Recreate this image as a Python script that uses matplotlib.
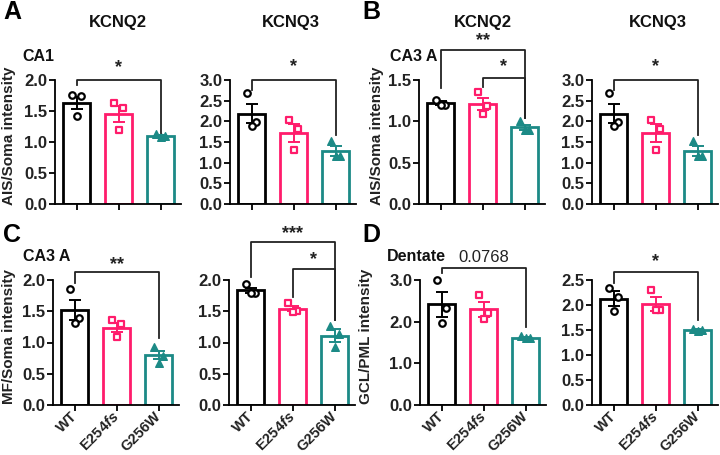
import matplotlib
matplotlib.use("Agg")
import matplotlib.pyplot as plt
import numpy as np

plt.rcParams['font.family'] = ['Liberation Sans', 'DejaVu Sans']
plt.rcParams['mathtext.fontset'] = 'custom'
plt.rcParams['mathtext.it'] = 'Liberation Sans:italic:bold'
plt.rcParams['mathtext.rm'] = 'Liberation Sans:bold'

groups = ["WT", "E254fs", "G256W"]
group_labels = ["WT", r"E254$\mathit{fs}$", "G256W"]
colors = ["#000000", "#FF1C6B", "#1C8A86"]
markers = ["o", "s", "^"]

# ---- data (means, SEM, individual animals) ----
a1_mean = [1.63, 1.45, 1.10]
a1_sem = [0.10, 0.13, 0.02]
a1_pts = [[1.76, 1.74, 1.42], [1.63, 1.55, 1.19], [1.13, 1.10, 1.08]]

kcnq3_mean = [2.18, 1.71, 1.28]
kcnq3_sem = [0.23, 0.22, 0.13]
kcnq3_pts = [[2.68, 1.98, 1.88], [2.03, 1.82, 1.31], [1.52, 1.17, 1.15]]

b1_mean = [1.22, 1.21, 0.93]
b1_sem = [0.02, 0.07, 0.03]
b1_pts = [[1.26, 1.20, 1.20], [1.36, 1.18, 1.09], [1.00, 0.90, 0.90]]

c1_mean = [1.52, 1.24, 0.80]
c1_sem = [0.16, 0.07, 0.07]
c1_pts = [[1.85, 1.40, 1.32], [1.36, 1.30, 1.09], [0.93, 0.78, 0.68]]

c2_mean = [1.84, 1.54, 1.11]
c2_sem = [0.04, 0.04, 0.10]
c2_pts = [[1.93, 1.80, 1.80], [1.64, 1.50, 1.49], [1.26, 1.13, 0.93]]

d1_mean = [2.42, 2.30, 1.62]
d1_sem = [0.30, 0.18, 0.02]
d1_pts = [[3.00, 2.32, 1.96], [2.64, 2.20, 2.07], [1.65, 1.62, 1.60]]

d2_mean = [2.13, 2.02, 1.50]
d2_sem = [0.15, 0.14, 0.02]
d2_pts = [[2.35, 2.17, 1.88], [2.30, 1.90, 1.90], [1.53, 1.50, 1.48]]

panel_data = [
    # mean, sem, pts, ymax, ystep, ylabel, region, brackets
    (a1_mean, a1_sem, a1_pts, 2.0, 0.5, "AIS/Soma intensity", "CA1",
     [(0, 2, 2.0, 1.92, 1.15, "*", 2.20)]),
    (kcnq3_mean, kcnq3_sem, kcnq3_pts, 3.0, 0.5, None, None,
     [(0, 2, 3.0, 2.76, 1.67, "*", 3.32)]),
    (b1_mean, b1_sem, b1_pts, 1.5, 0.5, "AIS/Soma intensity", "CA3 A",
     [(0, 2, 1.86, 1.40, 1.04, "**", 1.98), (1, 2, 1.52, 1.41, 1.04, "*", 1.66)]),
    (kcnq3_mean, kcnq3_sem, kcnq3_pts, 3.0, 0.5, None, None,
     [(0, 2, 3.0, 2.76, 1.67, "*", 3.32)]),
    (c1_mean, c1_sem, c1_pts, 2.0, 0.5, "MF/Soma intensity", "CA3 A",
     [(0, 2, 2.13, 1.95, 1.07, "**", 2.24)]),
    (c2_mean, c2_sem, c2_pts, 2.0, 0.5, None, None,
     [(0, 2, 2.61, 2.05, 1.36, "***", 2.75), (1, 2, 2.18, 1.73, 1.36, "*", 2.32)]),
    (d1_mean, d1_sem, d1_pts, 3.0, 1.0, "GCL/PML intensity", "Dentate",
     [(0, 2, 3.28, 3.16, 1.87, "0.0768", 3.54)]),
    (d2_mean, d2_sem, d2_pts, 2.5, 0.5, None, None,
     [(0, 2, 2.66, 2.44, 1.70, "*", 2.86)]),
]

# axes boxes in pixels: left, top, bottom
W, H = 720, 455
lefts = [55, 230, 419, 592, 53, 229, 420, 592]
tops = [80, 80, 80, 80, 280, 280, 280, 280]
bottoms = [204, 204, 204, 204, 405, 405, 405, 405]
AXW = 126
ylabel_x = [-0.31, None, -0.28, None, -0.29, None, -0.37, None]
region_x = [-0.26, None, -0.23, None, -0.24, None, -0.26, None]
offsets = [-0.11, 0.11, 0.0]

fig = plt.figure(figsize=(7.2, 4.55), dpi=100)

for k, (mean, sem, pts, ymax, ystep, ylab, region, brackets) in enumerate(panel_data):
    l, t, b = lefts[k], tops[k], bottoms[k]
    ax = fig.add_axes([l / W, 1 - b / H, AXW / W, (b - t) / H])
    x = np.arange(3)
    for i in range(3):
        ax.bar(x[i], mean[i], width=0.64, facecolor="white", edgecolor=colors[i],
               linewidth=2.0, zorder=2)
        ax.errorbar(x[i], mean[i], yerr=sem[i], color=colors[i], capsize=4.5,
                    elinewidth=1.4, capthick=1.4, zorder=3)
        px = x[i] + np.array(offsets)
        if markers[i] == "^":
            ax.scatter(px, pts[i], marker="^", s=30, facecolor=colors[i],
                       edgecolor=colors[i], linewidth=1.0, zorder=4, clip_on=False)
        else:
            ax.scatter(px, pts[i], marker=markers[i], s=22, facecolor="white",
                       edgecolor=colors[i], linewidth=1.6, zorder=4, clip_on=False)
    ax.set_xlim(-0.52, 2.48)
    ax.set_ylim(0, ymax)
    ax.set_yticks(np.arange(0, ymax + 1e-9, ystep))
    ax.yaxis.set_major_formatter(matplotlib.ticker.FormatStrFormatter("%.1f"))
    ax.set_xticks(x)
    for s in ["top", "right"]:
        ax.spines[s].set_visible(False)
    for s in ["left", "bottom"]:
        ax.spines[s].set_linewidth(1.3)
    ax.tick_params(axis="both", width=1.3, length=4, labelsize=12, colors="#000000",
                   labelcolor="#222222")
    ax.tick_params(axis="y", pad=1.5)
    for lab in ax.get_yticklabels():
        lab.set_fontweight("bold")
    if k >= 4:
        ax.tick_params(axis="x", pad=2.5)
        ax.set_xticklabels(group_labels, rotation=45, ha="right", va="center",
                           rotation_mode="anchor", fontsize=10.5, fontweight="bold")
    else:
        ax.set_xticklabels([])
    if ylab:
        ax.set_ylabel(ylab, fontsize=11, fontweight="bold", color="#222222")
        ax.yaxis.set_label_coords(ylabel_x[k], 0.55)
    if region:
        ax.text(region_x[k], 1.19, region, transform=ax.transAxes, fontsize=11.5,
                fontweight="bold", ha="left", va="center", color="#111111")
    for (i0, i1, ytop, yl, yr, lab, ylab_y) in brackets:
        ax.plot([i0, i0, i1, i1], [yl, ytop, ytop, yr], color="#222222",
                linewidth=1.3, clip_on=False, zorder=5)
        if lab.startswith("0"):
            ax.text((i0 + i1) / 2, ylab_y, lab, ha="center", va="center",
                    fontsize=12, color="#222222")
        else:
            ax.text((i0 + i1) / 2, ylab_y, lab, ha="center", va="center",
                    fontsize=13, fontweight="bold", color="#222222")

# column titles
for xc, title in [(118, "KCNQ2"), (291, "KCNQ3"), (483, "KCNQ2"), (658, "KCNQ3")]:
    fig.text(xc / W, 1 - 23 / H, title, ha="center", va="center", fontsize=12,
             fontweight="bold", color="#111111")

# panel letters
for xc, yc, letter in [(12, 12, "A"), (371, 12, "B"), (12, 235, "C"), (371, 235, "D")]:
    fig.text(xc / W, 1 - yc / H, letter, ha="center", va="center", fontsize=18,
             fontweight="bold", color="#000000")

fig.savefig("out.png", dpi=100)
